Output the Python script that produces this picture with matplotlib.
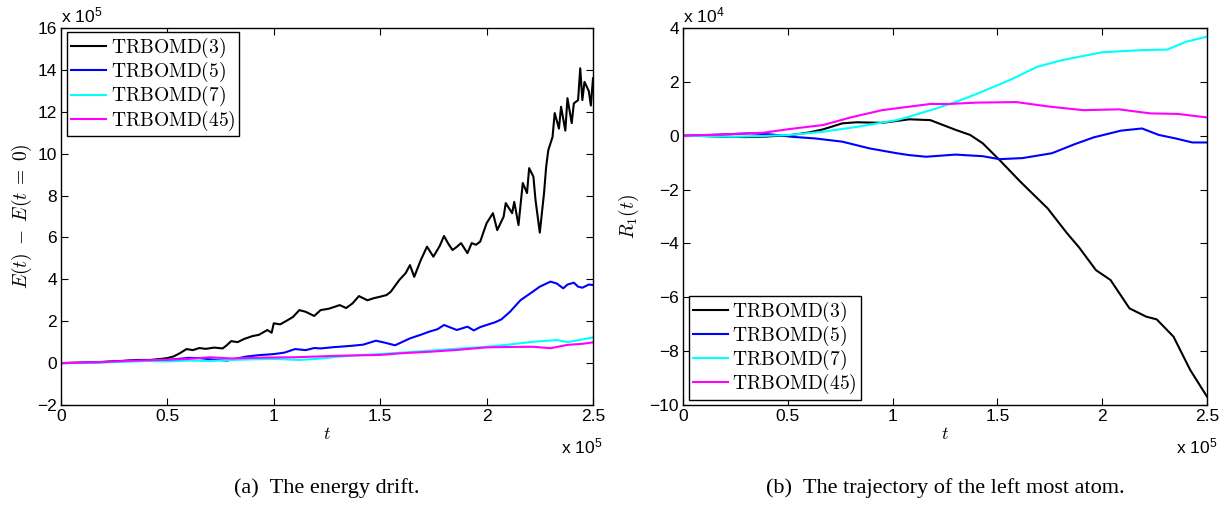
import matplotlib
matplotlib.use("Agg")
import matplotlib.pyplot as plt

plt.rcParams['mathtext.fontset'] = 'cm'
plt.rcParams['font.family'] = 'Liberation Sans'

# time in units of 1e5
# (a) energy drift, values in units of 1e5
t3_e = [0, 0.05, 0.1, 0.15, 0.2, 0.25, 0.31, 0.36, 0.42, 0.47, 0.5, 0.53, 0.56, 0.59, 0.62,
        0.65, 0.68, 0.72, 0.76, 0.78, 0.8, 0.83, 0.86, 0.9, 0.93, 0.97, 0.99, 1.0, 1.03,
        1.06, 1.09, 1.12, 1.15, 1.19, 1.22, 1.26, 1.31, 1.34, 1.37, 1.40, 1.44, 1.47, 1.50,
        1.53, 1.55, 1.59, 1.62, 1.64, 1.66, 1.69, 1.72, 1.75, 1.78, 1.80, 1.82, 1.84, 1.86,
        1.88, 1.91, 1.93, 1.95, 1.97, 2.0, 2.03, 2.05, 2.08, 2.09, 2.12, 2.13, 2.15, 2.17,
        2.19, 2.20, 2.22, 2.23, 2.25, 2.27, 2.28, 2.29, 2.31, 2.32, 2.34, 2.35, 2.37, 2.38,
        2.40, 2.41, 2.43, 2.44, 2.45, 2.46, 2.48, 2.49, 2.5]
e3 = [0, 0.01, 0.02, 0.03, 0.06, 0.08, 0.12, 0.15, 0.15, 0.2, 0.24, 0.32, 0.48, 0.67, 0.62,
      0.72, 0.68, 0.74, 0.70, 0.86, 1.05, 1.0, 1.15, 1.29, 1.35, 1.58, 1.45, 1.9, 1.85,
      2.02, 2.2, 2.53, 2.45, 2.25, 2.53, 2.6, 2.77, 2.63, 2.85, 3.2, 3.0, 3.1, 3.17,
      3.25, 3.41, 3.97, 4.3, 4.68, 4.12, 4.9, 5.56, 5.08, 5.6, 6.07, 5.7, 5.4, 5.55,
      5.73, 5.25, 5.73, 5.65, 5.8, 6.68, 7.16, 6.35, 6.99, 7.64, 7.16, 7.7, 6.59, 8.6,
      8.12, 9.31, 8.9, 7.78, 6.23, 8.12, 9.38, 10.17, 10.8, 11.94, 11.2, 12.24, 11.1, 12.65,
      11.46, 12.4, 12.56, 14.08, 12.56, 13.43, 13.0, 12.3, 13.6]

t5_e = [0, 0.1, 0.2, 0.3, 0.4, 0.5, 0.6, 0.65, 0.7, 0.78, 0.87, 0.93, 1.0, 1.05, 1.1, 1.15,
        1.19, 1.22, 1.28, 1.36, 1.42, 1.48, 1.52, 1.57, 1.64, 1.69, 1.73, 1.77, 1.80, 1.83,
        1.86, 1.91, 1.94, 1.97, 2.0, 2.04, 2.07, 2.11, 2.16, 2.21, 2.25, 2.30, 2.33, 2.36,
        2.38, 2.41, 2.43, 2.45, 2.48, 2.5]
e5 = [0, 0.02, 0.05, 0.1, 0.14, 0.15, 0.25, 0.24, 0.18, 0.12, 0.31, 0.38, 0.43, 0.5, 0.67, 0.62,
      0.72, 0.7, 0.76, 0.82, 0.88, 1.07, 0.98, 0.85, 1.18, 1.35, 1.5, 1.62, 1.82, 1.7,
      1.58, 1.74, 1.56, 1.72, 1.82, 1.95, 2.09, 2.45, 3.01, 3.36, 3.65, 3.89, 3.8, 3.57,
      3.75, 3.84, 3.65, 3.6, 3.75, 3.73]

t7_e = [0, 0.1, 0.2, 0.3, 0.4, 0.5, 0.6, 0.7, 0.8, 0.9, 1.0, 1.12, 1.2, 1.3, 1.4, 1.5, 1.6,
        1.73, 1.85, 2.0, 2.1, 2.22, 2.33, 2.38, 2.45, 2.5]
e7 = [0, 0.0, 0.03, 0.06, 0.1, 0.08, 0.12, 0.1, 0.15, 0.18, 0.2, 0.15, 0.2, 0.3, 0.38, 0.43, 0.5,
      0.59, 0.68, 0.78, 0.88, 1.02, 1.1, 1.0, 1.13, 1.23]

t45_e = [0, 0.1, 0.2, 0.3, 0.4, 0.5, 0.6, 0.7, 0.8, 0.9, 1.0, 1.1, 1.19, 1.3, 1.4, 1.5, 1.6,
         1.73, 1.85, 2.0, 2.1, 2.22, 2.3, 2.38, 2.45, 2.5]
e45 = [0, 0.02, 0.05, 0.1, 0.13, 0.16, 0.2, 0.28, 0.22, 0.25, 0.27, 0.28, 0.31, 0.35, 0.37, 0.39,
       0.47, 0.54, 0.62, 0.75, 0.77, 0.78, 0.71, 0.87, 0.92, 0.99]

# (b) trajectory of the left most atom, values in units of 1e4
t3_r = [0, 0.1, 0.2, 0.3, 0.4, 0.52, 0.6, 0.67, 0.76, 0.83, 0.95, 1.08, 1.18, 1.24, 1.30, 1.37,
        1.43, 1.51, 1.61, 1.74, 1.83, 1.89, 1.97, 2.04, 2.13, 2.21, 2.26, 2.34, 2.42, 2.5]
r3 = [0, -0.01, -0.04, -0.05, -0.03, 0.03, 0.12, 0.24, 0.46, 0.5, 0.48, 0.61, 0.58, 0.4, 0.22,
      0.03, -0.28, -0.9, -1.71, -2.7, -3.6, -4.15, -4.99, -5.36, -6.41, -6.72, -6.82, -7.46,
      -8.7, -9.69]

t5_r = [0, 0.1, 0.2, 0.32, 0.42, 0.52, 0.63, 0.76, 0.89, 1.02, 1.08, 1.16, 1.30, 1.43, 1.51,
        1.62, 1.76, 1.87, 1.96, 2.09, 2.19, 2.27, 2.35, 2.43, 2.5]
r5 = [0, 0.02, 0.05, 0.09, 0.05, -0.04, -0.1, -0.22, -0.47, -0.65, -0.72, -0.78, -0.7, -0.76,
      -0.87, -0.83, -0.65, -0.31, -0.06, 0.19, 0.27, 0.03, -0.1, -0.25, -0.25]

t7_r = [0, 0.12, 0.24, 0.38, 0.51, 0.67, 0.83, 1.02, 1.08, 1.21, 1.30, 1.40, 1.56, 1.69, 1.81,
        2.0, 2.19, 2.31, 2.40, 2.5]
r7 = [0, -0.02, -0.04, -0.01, 0.03, 0.15, 0.33, 0.58, 0.71, 1.02, 1.25, 1.55, 2.07, 2.56, 2.81,
      3.1, 3.18, 3.2, 3.49, 3.68]

t45_r = [0, 0.2, 0.38, 0.51, 0.67, 0.8, 0.95, 1.08, 1.18, 1.27, 1.40, 1.59, 1.75, 1.91, 2.08,
         2.23, 2.36, 2.5]
r45 = [0, 0.05, 0.11, 0.25, 0.4, 0.68, 0.95, 1.08, 1.18, 1.18, 1.23, 1.25, 1.08, 0.95, 0.98,
       0.83, 0.81, 0.68]

labels = [r'$\mathrm{TRBOMD(3)}$', r'$\mathrm{TRBOMD(5)}$',
          r'$\mathrm{TRBOMD(7)}$', r'$\mathrm{TRBOMD(45)}$']
colors = ['black', '#0000ff', '#00ffff', '#ff00ff']
xticks = [0, 0.5, 1, 1.5, 2, 2.5]
xticklabels = ['0', '0.5', '1', '1.5', '2', '2.5']


def style_axes(ax, yticks):
   ax.set_xlim(0, 2.5)
   ax.set_xticks(xticks)
   ax.set_xticklabels(xticklabels)
   ax.set_yticks(yticks)
   ax.set_yticklabels([str(v).replace('-', '\u2212') for v in yticks])
   ax.tick_params(direction='in', top=True, right=True, length=5, width=0.8,
                  labelsize=12.5, pad=3)
   for sp in ax.spines.values():
      sp.set_linewidth(1.0)


def add_legend(ax, loc, anchor):
   leg = ax.legend(loc=loc, bbox_to_anchor=anchor, borderaxespad=0,
                   fancybox=False, edgecolor='black', framealpha=1, fontsize=14,
                   handlelength=1.8, handletextpad=0.25, labelspacing=0.0,
                   borderpad=0.2)
   leg.get_frame().set_linewidth(1.0)
   return leg


fig = plt.figure(figsize=(12.29, 5.08), dpi=100)
ax1 = fig.add_axes([0.0496, 0.2028, 0.4329, 0.742])
ax2 = fig.add_axes([0.5557, 0.2028, 0.4264, 0.742])

series_e = [(t3_e, e3), (t5_e, e5), (t7_e, e7), (t45_e, e45)]
for (tt, vv), c, lab in zip(series_e, colors, labels):
   ax1.plot(tt, vv, color=c, lw=1.5, label=lab)
ax1.set_ylim(-2, 16)
style_axes(ax1, list(range(-2, 17, 2)))
ax1.set_xlabel(r'$t$', fontsize=13, labelpad=1)
ax1.set_ylabel(r'$E(t)\;-\;E(t\;=\;0)$', fontsize=14, labelpad=2)
add_legend(ax1, 'upper left', (0.011, 0.989))
ax1.text(0.0, 1.005, r'x 10$^{\mathregular{5}}$', transform=ax1.transAxes, fontsize=12.5,
         ha='left', va='bottom')
ax1.text(0.94, -0.085, r'x 10$^{\mathregular{5}}$', transform=ax1.transAxes, fontsize=12.5,
         ha='left', va='top')

series_r = [(t3_r, r3), (t5_r, r5), (t7_r, r7), (t45_r, r45)]
for (tt, vv), c, lab in zip(series_r, colors, labels):
   ax2.plot(tt, vv, color=c, lw=1.5, label=lab)
ax2.set_ylim(-10, 4)
style_axes(ax2, list(range(-10, 5, 2)))
ax2.set_xlabel(r'$t$', fontsize=13, labelpad=1)
ax2.set_ylabel(r'$R_1(t)$', fontsize=14, labelpad=6)
add_legend(ax2, 'lower left', (0.011, 0.013))
ax2.text(0.0, 1.005, r'x 10$^{\mathregular{4}}$', transform=ax2.transAxes, fontsize=12.5,
         ha='left', va='bottom')
ax2.text(0.94, -0.085, r'x 10$^{\mathregular{5}}$', transform=ax2.transAxes, fontsize=12.5,
         ha='left', va='top')

fig.text(0.266, 0.04, '(a)  The energy drift.', family='Liberation Serif',
         fontsize=16, ha='center', va='center')
fig.text(0.769, 0.04, '(b)  The trajectory of the left most atom.', family='Liberation Serif',
         fontsize=16, ha='center', va='center')

fig.savefig('out.png', dpi=100)
